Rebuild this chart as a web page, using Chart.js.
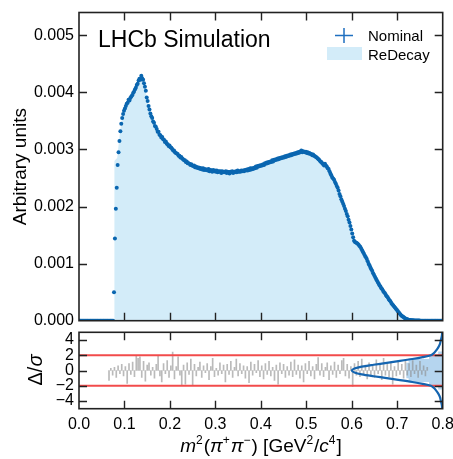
<!DOCTYPE html>
<html>
<head>
<meta charset="utf-8">
<script src="https://cdn.jsdelivr.net/npm/chart.js@4.4.1/dist/chart.umd.min.js"></script>
<style>
  body { margin: 0; background: #fff; }
  #wrap { position: relative; width: 453px; height: 459px; }
  #top { position: absolute; left: 0; top: 0; }
  #pull { position: absolute; left: 0; top: 325px; }
</style>
</head>
<body>
<div id="wrap">
  <canvas id="top" width="453" height="330"></canvas>
  <canvas id="pull" width="453" height="134"></canvas>
</div>
<script>
// Nominal histogram, bin centres BIN_X0 + i*BIN_W, values in units of 1e-3
const BIN_X0 = 0.001;
const BIN_W = 0.002;
const NOMINAL_E3 = [
  0,0,0,0,0,0,0,0,0,0,
  0,0,0,0,0,0,0,0,0,0,
  0,0,0,0,0,0,0,0,0,0,
  0,0,0,0,0,0,0,0,0.50,1.44,
  1.96,2.33,2.73,2.95,3.15,3.32,3.45,3.55,3.62,3.68,
  3.72,3.76,3.80,3.82,3.87,3.86,3.90,3.93,3.95,3.99,
  4.01,4.05,4.08,4.13,4.15,4.21,4.24,4.22,4.29,4.25,
  4.22,4.16,4.10,4.03,3.91,3.85,3.76,3.70,3.63,3.58,
  3.55,3.49,3.47,3.41,3.40,3.36,3.31,3.31,3.26,3.25,
  3.21,3.22,3.18,3.17,3.13,3.14,3.10,3.09,3.06,3.07,
  3.04,3.03,3.01,2.98,2.98,2.95,2.94,2.93,2.92,2.89,
  2.89,2.86,2.87,2.84,2.83,2.81,2.81,2.78,2.79,2.76,
  2.76,2.75,2.73,2.74,2.72,2.71,2.72,2.69,2.70,2.68,
  2.69,2.67,2.68,2.66,2.67,2.65,2.67,2.64,2.66,2.64,
  2.65,2.63,2.66,2.62,2.64,2.63,2.61,2.64,2.62,2.63,
  2.61,2.63,2.60,2.62,2.61,2.62,2.59,2.62,2.60,2.61,
  2.60,2.62,2.59,2.61,2.60,2.58,2.61,2.60,2.62,2.59,
  2.61,2.60,2.62,2.60,2.63,2.61,2.62,2.61,2.63,2.62,
  2.63,2.62,2.64,2.63,2.65,2.63,2.66,2.64,2.67,2.65,
  2.67,2.66,2.68,2.67,2.70,2.68,2.71,2.70,2.72,2.71,
  2.73,2.72,2.74,2.73,2.76,2.75,2.77,2.76,2.78,2.77,
  2.79,2.78,2.81,2.79,2.82,2.81,2.83,2.82,2.84,2.83,
  2.85,2.84,2.86,2.85,2.87,2.86,2.88,2.87,2.89,2.88,
  2.90,2.89,2.91,2.90,2.92,2.91,2.93,2.92,2.94,2.93,
  2.95,2.94,2.96,2.95,2.98,2.95,2.97,2.96,2.95,2.96,
  2.94,2.95,2.93,2.94,2.92,2.92,2.90,2.91,2.89,2.88,
  2.87,2.86,2.84,2.83,2.81,2.79,2.78,2.76,2.74,2.72,
  2.75,2.72,2.70,2.67,2.66,2.62,2.58,2.55,2.51,2.49,
  2.47,2.43,2.40,2.36,2.33,2.28,2.22,2.18,2.13,2.09,
  2.05,2.01,1.96,1.92,1.87,1.83,1.77,1.72,1.66,1.60,
  1.53,1.46,1.40,1.38,1.37,1.36,1.35,1.33,1.31,1.29,
  1.26,1.23,1.20,1.17,1.14,1.11,1.08,1.04,1.00,0.97,
  0.93,0.90,0.87,0.83,0.80,0.77,0.74,0.71,0.68,0.65,
  0.62,0.60,0.57,0.55,0.52,0.50,0.48,0.45,0.43,0.41,
  0.38,0.36,0.34,0.31,0.29,0.27,0.25,0.23,0.21,0.19,
  0.17,0.15,0.13,0.11,0.09,0.08,0.07,0.055,0.045,0.035,
  0.028,0.022,0.018,0.014,0.011,0.009,0.007,0.006,0.005,0.004,
  0.003,0.003,0.002,0.002,0.002,0.001,0.001,0.001,0.001,0,
  0,0,0,0,0,0,0,0,0,0,
  0,0,0,0,0,0,0,0,0,0
];

// ReDecay outline (x, value in 1e-3)
const REDECAY_X  = [0.0775,0.0775,0.084,0.086,0.09,0.095,0.10,0.11,0.12,0.13,0.138,0.145,0.15,0.16,0.17,0.18,0.19,0.20,0.21,0.22,0.23,0.24,0.25,0.26,0.27,0.28,0.30,0.32,0.34,0.36,0.38,0.40,0.42,0.44,0.46,0.48,0.50,0.51,0.52,0.53,0.54,0.55,0.56,0.57,0.58,0.59,0.60,0.605,0.615,0.625,0.635,0.645,0.655,0.665,0.675,0.685,0.695,0.705,0.715,0.725,0.74,0.76,0.80];
const REDECAY_E3 = [0,2.8,2.85,3.0,3.3,3.55,3.7,3.87,4.0,4.17,4.27,4.1,3.86,3.55,3.37,3.25,3.14,3.06,2.97,2.9,2.82,2.77,2.74,2.71,2.68,2.66,2.63,2.61,2.6,2.62,2.64,2.7,2.76,2.82,2.86,2.91,2.94,2.92,2.88,2.83,2.77,2.68,2.52,2.34,2.09,1.84,1.5,1.38,1.33,1.18,1.02,0.85,0.7,0.56,0.44,0.33,0.22,0.13,0.06,0.025,0.01,0.004,0.002];

// Pulls Δ/σ, bin centres PULL_X0 + i*PULL_W
const PULL_X0 = 0.066;
const PULL_W = 0.004;
const PULLS = [
  -1.3,0.3,-0.6,0.4,-0.9,0.6,-0.4,0.8,-0.7,0.5,
  -1.7,0.9,-0.5,1.1,-0.8,1.9,1.6,1.8,-0.9,1.2,
  -1.4,0.7,1.0,-0.6,0.4,-1.0,0.8,1.9,-0.7,-1.5,
  0.9,-0.4,1.3,-0.9,0.6,2.4,-1.1,0.5,1.8,-0.6,
  -1.9,0.7,-1.8,1.0,-0.5,1.5,-1.9,0.8,-0.7,0.4,
  1.1,-0.9,0.6,-0.3,0.9,-1.2,0.5,1.6,-0.8,0.3,
  -0.6,1.0,-0.4,0.7,-1.5,0.8,-0.5,1.2,-0.9,0.4,
  1.5,-0.7,0.9,-0.4,0.6,-1.0,0.5,-1.6,1.1,-0.6,
  0.8,-0.3,1.3,-0.8,0.6,-1.1,0.9,-0.5,1.2,-0.7,
  0.4,-1.3,0.7,-1.8,1.0,-0.4,0.8,-0.9,0.5,-0.6,
  1.1,-0.8,1.4,-0.5,0.7,-1.0,0.6,-1.5,0.9,-0.4,
  1.2,-0.7,0.5,-1.1,0.8,1.7,-0.6,0.9,-0.8,0.4,
  1.0,-1.2,0.6,-0.5,1.1,-0.9,0.7,-0.4,1.3,1.6,
  -0.7,0.8,-1.0,0.5,-2.1,0.9,-0.6,1.2,-0.8,1.5,
  -0.5,0.7,-1.1,1.0,-0.7,0.6,-0.9,1.4,-0.4,0.8,
  -1.2,1.6,-0.6,0.9,-0.8,1.1,-1.8,0.5,-0.7,1.3,
  -0.5,0.8,-1.0,1.2,-0.6,0.9,-0.8,1.3,-0.4,0.7,
  -0.9,1.2,-0.5,0.6,-0.7,0.4
];

// Pull distribution: histogram (left edge x per bin) and fitted curve
const PULL_HIST_EDGES = [-2.5,-2,-1.5,-1,-0.5,0,0.5,1,1.5,2,2.5];
const PULL_HIST_LEFT  = [0.79,0.77,0.725,0.72,0.72,0.72,0.72,0.725,0.77,0.79];
const GAUSS_Y = [-5,-4.5,-4,-3.5,-3,-2.5,-2.25,-2,-1.75,-1.5,-1.25,-1,-0.75,-0.5,-0.25,0,0.25,0.5,0.75,1,1.25,1.5,1.75,2,2.25,2.5,3,3.5,4,4.5,5];
const GAUSS_X = [0.799,0.798,0.796,0.794,0.790,0.784,0.780,0.774,0.756,0.733,0.706,0.677,0.648,0.622,0.606,0.600,0.606,0.622,0.648,0.677,0.706,0.733,0.756,0.774,0.780,0.784,0.790,0.794,0.796,0.798,0.799];
const PULL_REF = [2, -2];

const X_TICKS = [0, 0.1, 0.2, 0.3, 0.4, 0.5, 0.6, 0.7, 0.8];
const Y_TICKS = [0, 0.001, 0.002, 0.003, 0.004, 0.005];
const PULL_TICKS = [-4, -2, 0, 2, 4];

const FONT = '"Liberation Sans", Arial, sans-serif';
const BLUE = '#0a66b0';

const nominalPts = NOMINAL_E3.map((v, i) => ({ x: BIN_X0 + i * BIN_W, y: v * 1e-3 }));
const redecayPts = REDECAY_X.map((x, i) => ({ x: x, y: REDECAY_E3[i] * 1e-3 }));
const pullPts = PULLS.map((v, i) => ({ x: PULL_X0 + i * PULL_W, y: v }));
const gaussPts = GAUSS_Y.map((y, i) => ({ x: GAUSS_X[i], y: y }));
const histPts = [{ x: 0.8, y: PULL_HIST_EDGES[0] }];
PULL_HIST_LEFT.forEach((l, i) => {
    histPts.push({ x: l, y: PULL_HIST_EDGES[i] });
    histPts.push({ x: l, y: PULL_HIST_EDGES[i + 1] });
});
histPts.push({ x: 0.8, y: PULL_HIST_EDGES[PULL_HIST_EDGES.length - 1] });

// frame + inward ticks on all four sides
const framePlugin = {
    id: 'frame',
    afterDraw(chart, args, opts) {
        const { ctx, chartArea: a } = chart;
        const x = chart.scales.x, y = chart.scales.y;
        const L = 8;
        ctx.save();
        ctx.strokeStyle = '#222';
        ctx.lineWidth = 1.4;
        ctx.beginPath();
        opts.xTicks.forEach(v => {
            const px = Math.round(x.getPixelForValue(v)) + 0.5;
            if (px < a.left + 2 || px > a.right - 2) return;
            ctx.moveTo(px, a.bottom); ctx.lineTo(px, a.bottom - L);
            ctx.moveTo(px, a.top); ctx.lineTo(px, a.top + L);
        });
        opts.yTicks.forEach(v => {
            const py = Math.round(y.getPixelForValue(v)) + 0.5;
            if (py < a.top + 2 || py > a.bottom - 2) return;
            ctx.moveTo(a.left, py); ctx.lineTo(a.left + L, py);
            ctx.moveTo(a.right, py); ctx.lineTo(a.right - L, py);
        });
        ctx.stroke();
        ctx.lineWidth = 1.6;
        ctx.strokeRect(a.left, a.top, a.right - a.left, a.bottom - a.top);
        ctx.restore();
    }
};

const topText = {
    id: 'topText',
    afterDraw(chart) {
        const ctx = chart.ctx;
        ctx.save();
        ctx.fillStyle = '#000';
        ctx.textBaseline = 'alphabetic';
        ctx.font = '23px ' + FONT;
        ctx.fillText('LHCb Simulation', 98, 47);
        // legend
        ctx.strokeStyle = '#1f6fc0';
        ctx.lineWidth = 1.5;
        ctx.beginPath();
        ctx.moveTo(335, 35.5); ctx.lineTo(353, 35.5);
        ctx.moveTo(344, 28); ctx.lineTo(344, 43);
        ctx.stroke();
        ctx.fillStyle = '#d3ecf9';
        ctx.fillRect(327, 47, 35, 13);
        ctx.fillStyle = '#000';
        ctx.font = '15px ' + FONT;
        ctx.fillText('Nominal', 368, 41);
        ctx.fillText('ReDecay', 368, 60);
        ctx.restore();
    }
};

const pullText = {
    id: 'pullText',
    afterDraw(chart) {
        const ctx = chart.ctx;
        ctx.save();
        ctx.fillStyle = '#000';
        // y title, rotated
        ctx.translate(36, 45);
        ctx.rotate(-Math.PI / 2);
        ctx.textBaseline = 'middle';
        const p1 = 'Δ/', p2 = 'σ';
        ctx.font = '20px ' + FONT;
        const w1 = ctx.measureText(p1).width;
        ctx.font = 'italic 20px ' + FONT;
        const w2 = ctx.measureText(p2).width;
        let cx = -(w1 + w2) / 2;
        ctx.font = '20px ' + FONT;
        ctx.fillText(p1, cx, 0);
        ctx.font = 'italic 20px ' + FONT;
        ctx.fillText(p2, cx + w1, 0);
        ctx.restore();

        // x title with italics and superscripts
        const segs = [
            ['m', 'i'], ['2', 's'], ['(', 'n'], ['π', 'i'], ['+', 's'], ['π', 'i'], ['−', 's'],
            [') [GeV', 'n'], ['2', 's'], ['/', 'n'], ['c', 'i'], ['4', 's'], [']', 'n']
        ];
        const fontOf = k => k === 'i' ? 'italic 19px ' + FONT : (k === 's' ? '12px ' + FONT : '19px ' + FONT);
        ctx.save();
        ctx.fillStyle = '#000';
        ctx.textBaseline = 'alphabetic';
        let total = 0;
        segs.forEach(s => { ctx.font = fontOf(s[1]); total += ctx.measureText(s[0]).width + (s[1] === 's' ? 1 : 0); });
        let xx = 261 - total / 2;
        const base = 127;
        segs.forEach(s => {
            ctx.font = fontOf(s[1]);
            ctx.fillText(s[0], xx, s[1] === 's' ? base - 8 : base);
            xx += ctx.measureText(s[0]).width + (s[1] === 's' ? 1 : 0);
        });
        ctx.restore();
    }
};

function fixY(scale) {
    scale.width = 79;
    scale.paddingTop = 0;
    scale.paddingBottom = 0;
}

new Chart(document.getElementById('top'), {
    type: 'scatter',
    data: {
        datasets: [
            {
                label: 'Nominal',
                data: nominalPts,
                pointRadius: 2,
                pointBackgroundColor: BLUE,
                pointBorderWidth: 0,
                showLine: false
            },
            {
                type: 'line',
                label: 'ReDecay',
                data: redecayPts,
                fill: 'origin',
                backgroundColor: '#d3ecf9',
                borderWidth: 0,
                pointRadius: 0,
                tension: 0
            }
        ]
    },
    options: {
        responsive: false,
        animation: false,
        events: [],
        layout: { padding: { left: 0, right: 10.3, top: 12.5, bottom: 9.3 } },
        plugins: {
            legend: { display: false },
            tooltip: { enabled: false },
            frame: { xTicks: X_TICKS, yTicks: Y_TICKS }
        },
        scales: {
            x: { type: 'linear', min: 0, max: 0.8, offset: false, display: false },
            y: {
                type: 'linear',
                min: 0,
                max: 0.0054,
                grid: { display: false, drawTicks: false },
                border: { display: false },
                afterBuildTicks: s => { s.ticks = Y_TICKS.map(v => ({ value: v })); },
                afterFit: fixY,
                ticks: {
                    color: '#000',
                    padding: 5,
                    autoSkip: false,
                    font: { family: FONT, size: 16 },
                    callback: v => v.toFixed(3)
                },
                title: {
                    display: true,
                    text: 'Arbitrary units',
                    color: '#000',
                    font: { family: FONT, size: 19 },
                    padding: { top: 9.6, bottom: 0 }
                }
            }
        }
    },
    plugins: [framePlugin, topText]
});

new Chart(document.getElementById('pull'), {
    type: 'scatter',
    data: {
        datasets: [
            {
                type: 'line',
                data: gaussPts,
                borderColor: '#1565b0',
                borderWidth: 2.2,
                pointRadius: 0,
                tension: 0.3,
                fill: false
            },
            {
                type: 'line',
                data: [{ x: 0, y: PULL_REF[0] }, { x: 0.8, y: PULL_REF[0] }],
                borderColor: '#f24b4b',
                borderWidth: 2,
                pointRadius: 0
            },
            {
                type: 'line',
                data: [{ x: 0, y: PULL_REF[1] }, { x: 0.8, y: PULL_REF[1] }],
                borderColor: '#f24b4b',
                borderWidth: 2,
                pointRadius: 0
            },
            {
                type: 'bar',
                data: pullPts,
                backgroundColor: 'rgba(140,140,140,0.6)',
                borderWidth: 0,
                barThickness: 1
            },
            {
                type: 'line',
                data: histPts,
                fill: 'shape',
                backgroundColor: 'rgba(150,195,232,0.7)',
                borderWidth: 0,
                pointRadius: 0,
                tension: 0
            }
        ]
    },
    options: {
        responsive: false,
        animation: false,
        events: [],
        layout: { padding: { left: 0, right: 10.3, top: 7.3, bottom: 28.3 } },
        plugins: {
            legend: { display: false },
            tooltip: { enabled: false },
            frame: { xTicks: X_TICKS, yTicks: PULL_TICKS }
        },
        scales: {
            x: {
                type: 'linear',
                min: 0,
                max: 0.8,
                offset: false,
                grid: { display: false, drawTicks: false, offset: false },
                border: { display: false },
                afterBuildTicks: s => { s.ticks = X_TICKS.map(v => ({ value: v })); },
                afterFit: s => { s.height = 22; s.paddingLeft = 0; s.paddingRight = 0; },
                ticks: {
                    color: '#000',
                    padding: 6,
                    maxRotation: 0,
                    autoSkip: false,
                    font: { family: FONT, size: 16 },
                    callback: v => v.toFixed(1)
                }
            },
            y: {
                type: 'linear',
                min: -5,
                max: 5,
                grid: { display: false, drawTicks: false },
                border: { display: false },
                afterBuildTicks: s => { s.ticks = PULL_TICKS.map(v => ({ value: v })); },
                afterFit: fixY,
                ticks: {
                    color: '#000',
                    padding: 5,
                    autoSkip: false,
                    font: { family: FONT, size: 16 },
                    callback: v => (v < 0 ? '−' + Math.abs(v) : String(v))
                }
            }
        }
    },
    plugins: [framePlugin, pullText]
});
</script>
</body>
</html>
